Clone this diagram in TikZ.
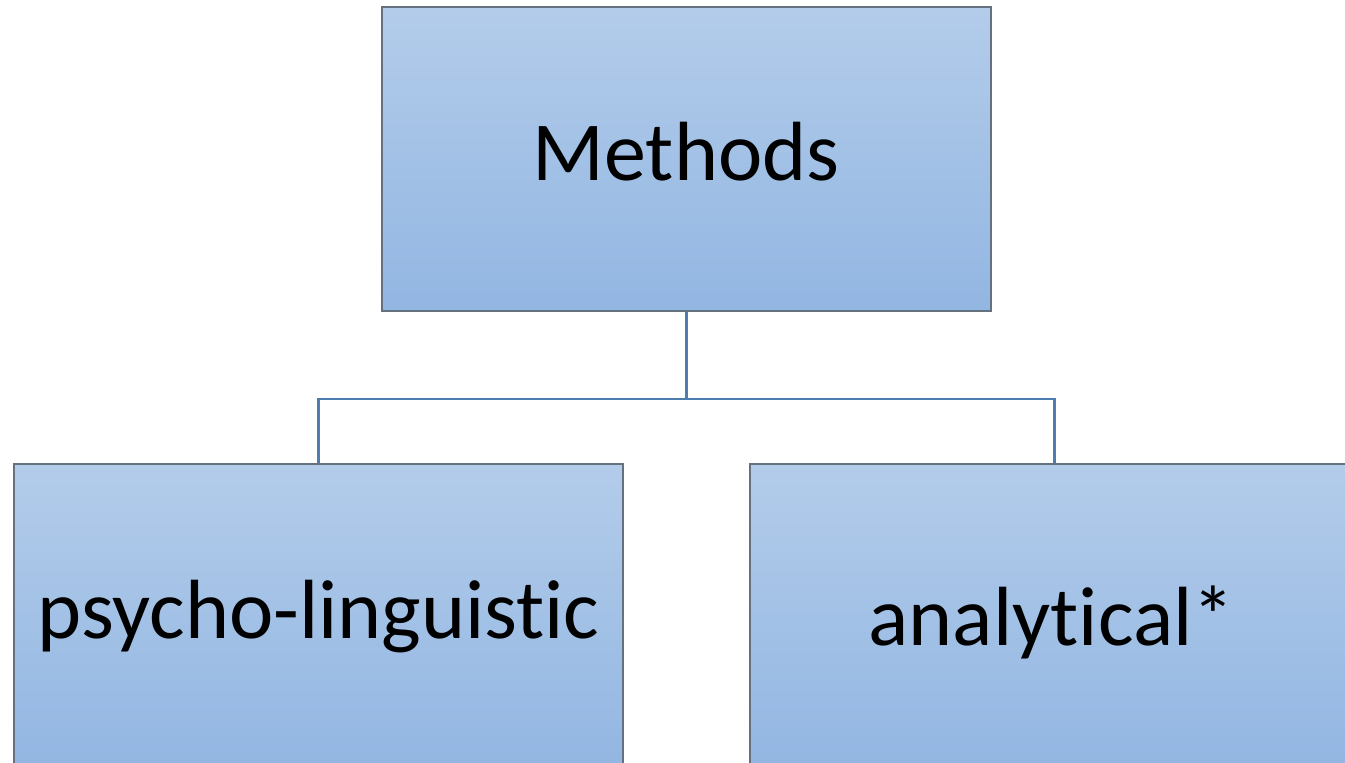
\documentclass[tikz,border=0pt]{standalone}
\usepackage{fontspec}
\setmainfont{Carlito}[Ligatures={NoCommon,NoContextual}]
\definecolor{boxtop}{HTML}{B3CCEA}
\definecolor{boxbot}{HTML}{92B6E2}
\definecolor{boxline}{HTML}{66717F}
\definecolor{conn}{HTML}{4F7DB0}
\tikzset{
  box/.style={draw=boxline, line width=2.2pt, top color=boxtop, bottom color=boxbot,
    minimum width=609pt, minimum height=304pt, inner sep=0pt, anchor=north west},
  lbl/.style={font=\fontsize{84}{90}\selectfont, anchor=base, inner sep=0pt},
  connector/.style={draw=conn, line width=2.5pt}
}
\begin{document}
\begin{tikzpicture}[x=1pt,y=1pt]
\useasboundingbox (0,0) rectangle (1345,-763);
\begin{scope}
\clip (0,0) rectangle (1345,-763);
\node[box] (top) at (381,-6) {};
\node[box, minimum height=306pt] (left) at (13,-463) {};
\node[box, minimum height=306pt] (right) at (749,-463) {};
\end{scope}
\coordinate (bus) at (0,-399);
\draw[connector] (top.south) -- (top.south |- bus) -| (left.north);
\draw[connector] (top.south |- bus) -| (right.north);
\node[lbl] (tm) at (686,-180) {Methods};
\node[lbl] (tl) at (318.5,-638) {psycho-linguistic};
\node[lbl] (tr) at (1051.5,-645) {analytical*};
\end{tikzpicture}
\end{document}
